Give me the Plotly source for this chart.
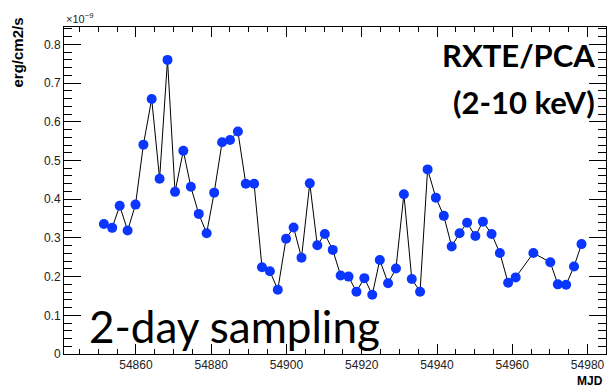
import plotly.graph_objects as go

# MJD of each 2-day RXTE/PCA pointing
mjd = [54851.5, 54853.7, 54855.7, 54857.8, 54859.9, 54862.0, 54864.2, 54866.3,
       54868.4, 54870.4, 54872.6, 54874.6, 54876.7, 54878.8, 54880.8, 54882.9,
       54885.0, 54887.1, 54889.2, 54891.4, 54893.5, 54895.6, 54897.7, 54899.9,
       54901.9, 54904.0, 54906.2, 54908.2, 54910.2, 54912.3, 54914.4, 54916.5,
       54918.6, 54920.7, 54922.8, 54924.8, 54927.0, 54929.1, 54931.2, 54933.3,
       54935.5, 54937.5, 54939.7, 54941.8, 54943.9, 54946.0, 54948.0, 54950.2,
       54952.2, 54954.5, 54956.7, 54958.9, 54960.9, 54965.6, 54970.1, 54972.1,
       54974.3, 54976.4, 54978.4]

# flux in units of 1e-9 erg/cm2/s
flux = [0.336, 0.326, 0.383, 0.319, 0.386, 0.541, 0.659, 0.453,
        0.760, 0.419, 0.525, 0.432, 0.362, 0.312, 0.417, 0.547,
        0.553, 0.575, 0.440, 0.440, 0.224, 0.214, 0.166, 0.298,
        0.327, 0.249, 0.441, 0.281, 0.310, 0.269, 0.203, 0.200,
        0.161, 0.196, 0.153, 0.243, 0.183, 0.221, 0.413, 0.194,
        0.161, 0.477, 0.404, 0.357, 0.278, 0.312, 0.339, 0.305,
        0.342, 0.310, 0.261, 0.184, 0.198, 0.261, 0.237, 0.180,
        0.179, 0.226, 0.284]

x_range = [54840.9, 54984.9]
y_range = [0, 0.845]

fig = go.Figure()
fig.add_trace(go.Scatter(
    x=mjd, y=flux, mode="lines+markers",
    line=dict(color="black", width=1),
    marker=dict(color="#0a36ff", size=10, line=dict(width=0)),
    showlegend=False,
))

axis_common = dict(
    showgrid=False, zeroline=False, showline=True, linecolor="black", linewidth=1,
    mirror="ticks", ticks="inside", tickcolor="black", automargin=False,
    tickfont=dict(family="Liberation Sans, Arial, sans-serif", size=12, color="#222"),
)

fig.update_xaxes(range=x_range, dtick=20, tick0=54860, ticklen=10, tickwidth=1,
                 tickformat="d",
                 minor=dict(dtick=5, tick0=54860, ticklen=5, ticks="inside", tickcolor="black"),
                 **axis_common)
fig.update_yaxes(range=y_range, dtick=0.1, tick0=0, ticklen=17, tickwidth=1,
                 minor=dict(dtick=0.02, tick0=0, ticklen=8, ticks="inside", tickcolor="black"),
                 **axis_common)

annotations = [
    dict(text="<b>erg/cm2/s</b>", x=-0.085, y=1.035, xref="paper", yref="paper",
         xanchor="center", yanchor="top", textangle=-90, showarrow=False,
         font=dict(family="Liberation Sans, Arial, sans-serif", size=15, color="black")),
    dict(text="×10<sup>−9</sup>", x=0.0, y=1.0, xref="paper", yref="paper",
         xanchor="left", yanchor="bottom", showarrow=False,
         font=dict(family="Liberation Sans, Arial, sans-serif", size=11, color="#222")),
    dict(text="<b>MJD</b>", x=0.998, y=-0.055, xref="paper", yref="paper",
         xanchor="right", yanchor="top", showarrow=False,
         font=dict(family="Liberation Sans, Arial, sans-serif", size=12, color="black")),
    dict(text="<b>RXTE/PCA</b>", x=0.983, y=0.913, xref="paper", yref="paper",
         xanchor="right", yanchor="middle", showarrow=False,
         font=dict(family="Lato, sans-serif", size=31, color="black")),
    dict(text="<b>(2-10 keV)</b>", x=0.983, y=0.772, xref="paper", yref="paper",
         xanchor="right", yanchor="middle", showarrow=False,
         font=dict(family="Lato, sans-serif", size=31, color="black")),
    dict(text="2-day sampling", x=0.042, y=0.085, xref="paper", yref="paper",
         xanchor="left", yanchor="middle", showarrow=False,
         font=dict(family="Lato, sans-serif", size=44, color="black")),
]

fig.update_layout(
    width=608, height=387,
    margin=dict(l=64, r=2, t=27, b=33, autoexpand=False),
    paper_bgcolor="white", plot_bgcolor="white",
    annotations=annotations,
)

fig.write_html("out.html", config={"displayModeBar": False},
               post_script="document.body.style.margin='0';document.body.style.overflow='hidden';")
